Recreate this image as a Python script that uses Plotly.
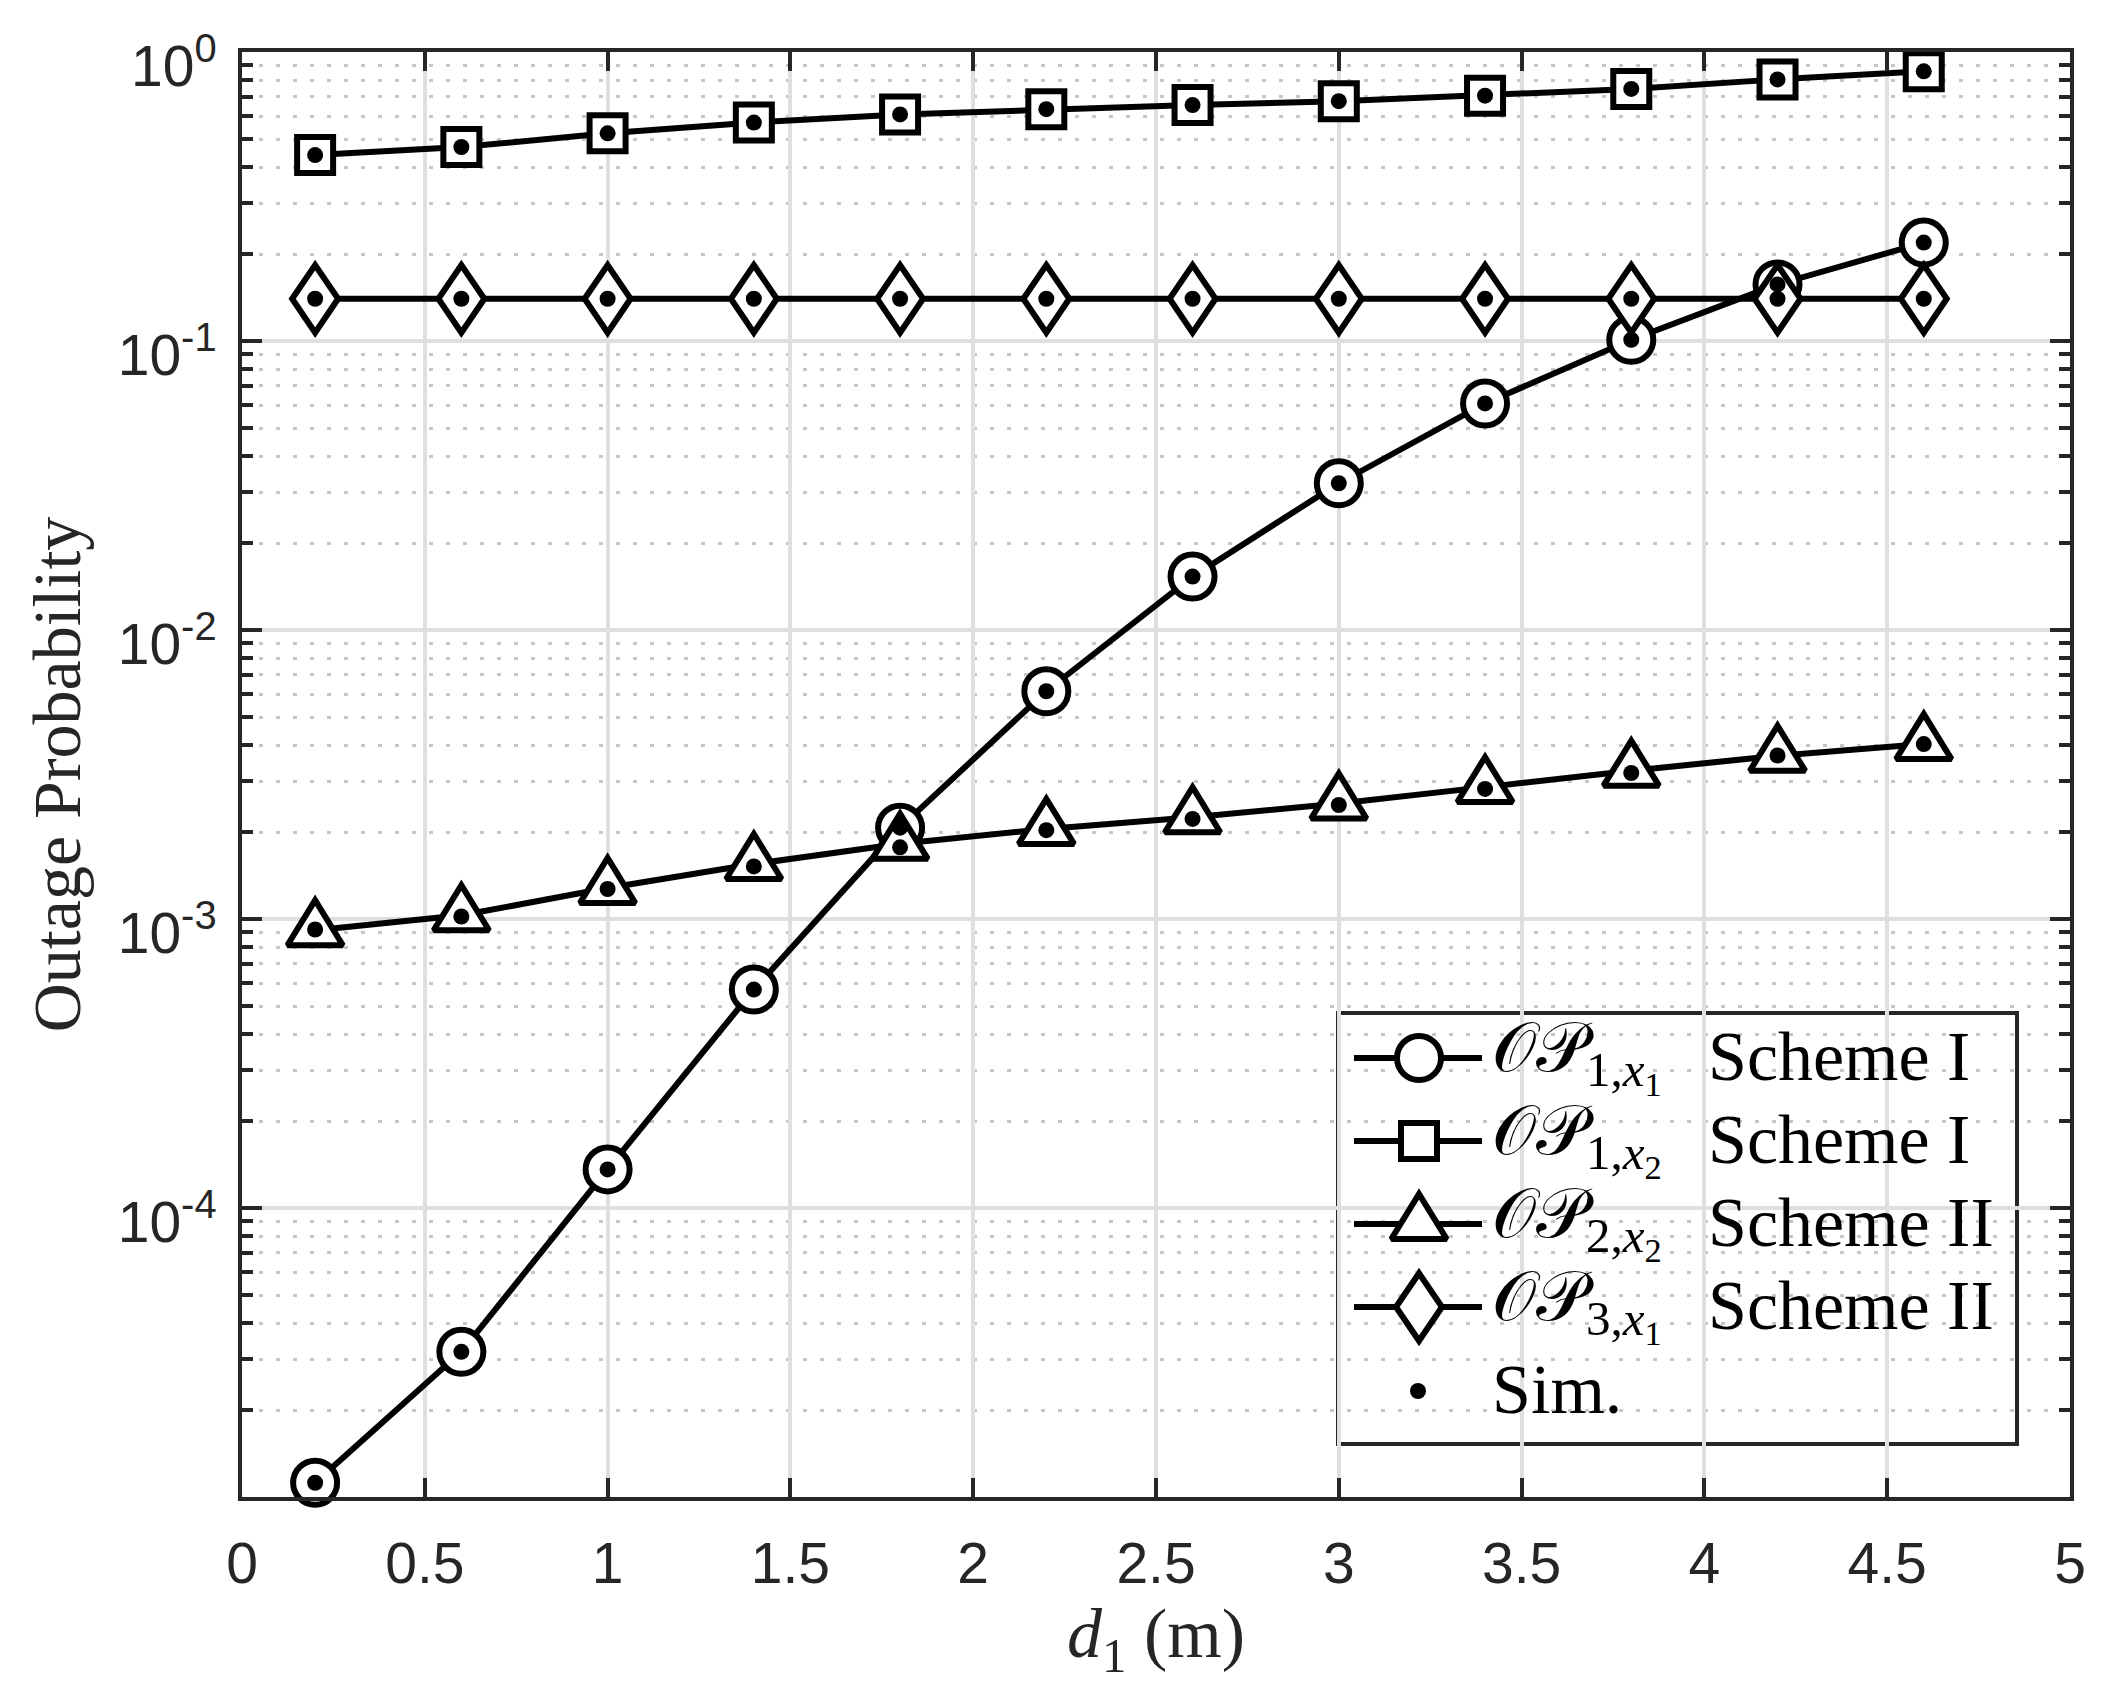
import plotly.graph_objects as go

d1 = [0.2, 0.6, 1.0, 1.4, 1.8, 2.2, 2.6, 3.0, 3.4, 3.8, 4.2, 4.6]

op1_x1 = [1.12e-5, 3.18e-5, 1.36e-4, 5.7e-4, 2.07e-3, 6.14e-3, 1.53e-2, 3.22e-2, 6.08e-2, 0.101, 0.157, 0.219]
op1_x2 = [0.44, 0.469, 0.523, 0.57, 0.608, 0.634, 0.655, 0.676, 0.706, 0.745, 0.804, 0.857]
op2_x2 = [9.14e-4, 1.03e-3, 1.28e-3, 1.55e-3, 1.82e-3, 2.05e-3, 2.25e-3, 2.51e-3, 2.86e-3, 3.26e-3, 3.67e-3, 4.03e-3]
op3_x1 = [0.14] * 12

sim_op1_x1 = op1_x1
sim_op1_x2 = op1_x2
sim_op2_x2 = [9.2e-4, 1.02e-3, 1.27e-3, 1.52e-3, 1.77e-3, 2.03e-3, 2.22e-3, 2.48e-3, 2.82e-3, 3.2e-3, 3.68e-3, 4.03e-3]
sim_op3_x1 = op3_x1

x_ticks = [0, 0.5, 1, 1.5, 2, 2.5, 3, 3.5, 4, 4.5, 5]
x_labels = ['0', '0.5', '1', '1.5', '2', '2.5', '3', '3.5', '4', '4.5', '5']
y_ticks = [1e-5, 1e-4, 1e-3, 1e-2, 1e-1, 1]
y_labels = ['', '10<sup>-4</sup>', '10<sup>-3</sup>', '10<sup>-2</sup>', '10<sup>-1</sup>', '10<sup>0</sup>']

legend_names = ['𝒪𝒫<sub>1,<i>x</i><sub>1</sub></sub>', '𝒪𝒫<sub>1,<i>x</i><sub>2</sub></sub>',
                '𝒪𝒫<sub>2,<i>x</i><sub>2</sub></sub>', '𝒪𝒫<sub>3,<i>x</i><sub>1</sub></sub>']
legend_schemes = ['Scheme I', 'Scheme I', 'Scheme II', 'Scheme II']

INK = '#262626'
SERIF = 'Liberation Serif'
SANS = 'Liberation Sans'

# plot area in page pixels
L, R, T, B = 242, 2070, 52, 1497


def px_x(p):
    return (p - L) / (R - L) * 5


def px_y(p):
    return 10 ** (-(p - T) / (B - T) * 5)


def paper_x(p):
    return (p - L) / (R - L)


def paper_y(p):
    return (B - p) / (B - T)


fig = go.Figure()

symbols = ['circle', 'square', 'triangle-up', 'diamond']
sizes = [44, 36, 48, 52]
series = [op1_x1, op1_x2, op2_x2, op3_x1]
line = dict(color='black', width=6)


def marker_style(symbol, size):
    return dict(symbol=symbol, size=size, color='white', line=dict(color='black', width=6))


for vals, symbol, size in zip(series, symbols, sizes):
    fig.add_trace(go.Scatter(x=d1, y=vals, mode='lines+markers', line=line,
                             marker=marker_style(symbol, size), cliponaxis=False))

# simulation dots go on top of all the curves
fig.add_trace(go.Scatter(
    x=d1 * 4, y=sim_op1_x1 + sim_op1_x2 + sim_op2_x2 + sim_op3_x1, mode='markers',
    marker=dict(symbol='circle', size=16, color='black'), cliponaxis=False,
))

# legend is built by hand, plotly caps the marker size in its own legend
row_y = [1058, 1141, 1224, 1307, 1391]
for i in range(4):
    y = px_y(row_y[i])
    fig.add_trace(go.Scatter(x=[px_x(1354), px_x(1482)], y=[y, y], mode='lines', line=line))
    fig.add_trace(go.Scatter(x=[px_x(1419)], y=[y], mode='markers', marker=marker_style(symbols[i], sizes[i])))
    fig.add_annotation(xref='paper', yref='paper', x=paper_x(1490), y=paper_y(row_y[i] - 2),
                       text=legend_names[i], showarrow=False, xanchor='left', yanchor='middle',
                       font=dict(family=SERIF, size=70, color='black'))
    fig.add_annotation(xref='paper', yref='paper', x=paper_x(1706), y=paper_y(row_y[i] - 2),
                       text=legend_schemes[i], showarrow=False, xanchor='left', yanchor='middle',
                       font=dict(family=SERIF, size=70, color='black'))

fig.add_trace(go.Scatter(x=[px_x(1418)], y=[px_y(row_y[4])], mode='markers',
                         marker=dict(symbol='circle', size=16, color='black')))
fig.add_annotation(xref='paper', yref='paper', x=paper_x(1490), y=paper_y(row_y[4] - 2),
                   text='Sim.', showarrow=False, xanchor='left', yanchor='middle',
                   font=dict(family=SERIF, size=70, color='black'))
fig.add_shape(type='rect', xref='paper', yref='paper', layer='between',
              x0=paper_x(1338), x1=paper_x(2017), y0=paper_y(1013), y1=paper_y(1444),
              fillcolor='white', line=dict(color=INK, width=4))

fig.update_xaxes(
    range=[0, 5], tickvals=x_ticks, ticktext=x_labels,
    ticks='inside', ticklen=19, tickwidth=4, tickcolor=INK,
    showline=True, linewidth=4, linecolor=INK, mirror='ticks',
    showgrid=True, gridcolor='#dfdfdf', gridwidth=4, zeroline=False,
    tickfont=dict(family=SANS, size=57, color=INK),
    ticklabelstandoff=14, automargin=False,
    title=dict(text='<i>d</i><sub>1</sub> (m)', font=dict(family=SERIF, size=70, color=INK), standoff=14),
)
fig.update_yaxes(
    type='log', range=[-5, 0], tickvals=y_ticks, ticktext=y_labels,
    ticks='inside', ticklen=20, tickwidth=4, tickcolor=INK,
    showline=True, linewidth=4, linecolor=INK, mirror='ticks',
    showgrid=True, gridcolor='#dfdfdf', gridwidth=4, zeroline=False,
    tickfont=dict(family=SANS, size=57, color=INK),
    ticklabelstandoff=10, ticklabelshift=14, automargin=False,
    title=dict(text='Outage Probability', font=dict(family=SERIF, size=68, color=INK), standoff=16),
    minor=dict(
        dtick='D1', ticks='inside', ticklen=11, tickwidth=4, tickcolor=INK,
        showgrid=True, gridcolor='#c6c6c6', gridwidth=3, griddash='4px,13px',
    ),
)

fig.update_layout(
    width=2120, height=1687,
    margin=dict(l=L, r=2120 - R, t=T, b=1687 - B),
    paper_bgcolor='white', plot_bgcolor='white',
    showlegend=False,
)

# plotly has no diamond/triangle with these proportions, so reshape the drawn paths
reshape = """
document.body.style.margin = '0';
document.querySelectorAll('path.point').forEach(function (p) {
    var d = p.getAttribute('d');
    if (/^M[\\d.]+,0L0,/.test(d)) {
        p.setAttribute('d', d.replace(/(-?[\\d.]+),/g, function (m, a) { return (a * 0.68) + ','; }));
    } else if (/^M-[\\d.]+,[\\d.]+H/.test(d)) {
        p.setAttribute('d', d.replace(/,(-?[\\d.]+)/g, function (m, b) { return ',' + (b * 1.25); }));
    }
});
"""
fig.write_html('out.html', post_script=reshape, config={'displayModeBar': False})
